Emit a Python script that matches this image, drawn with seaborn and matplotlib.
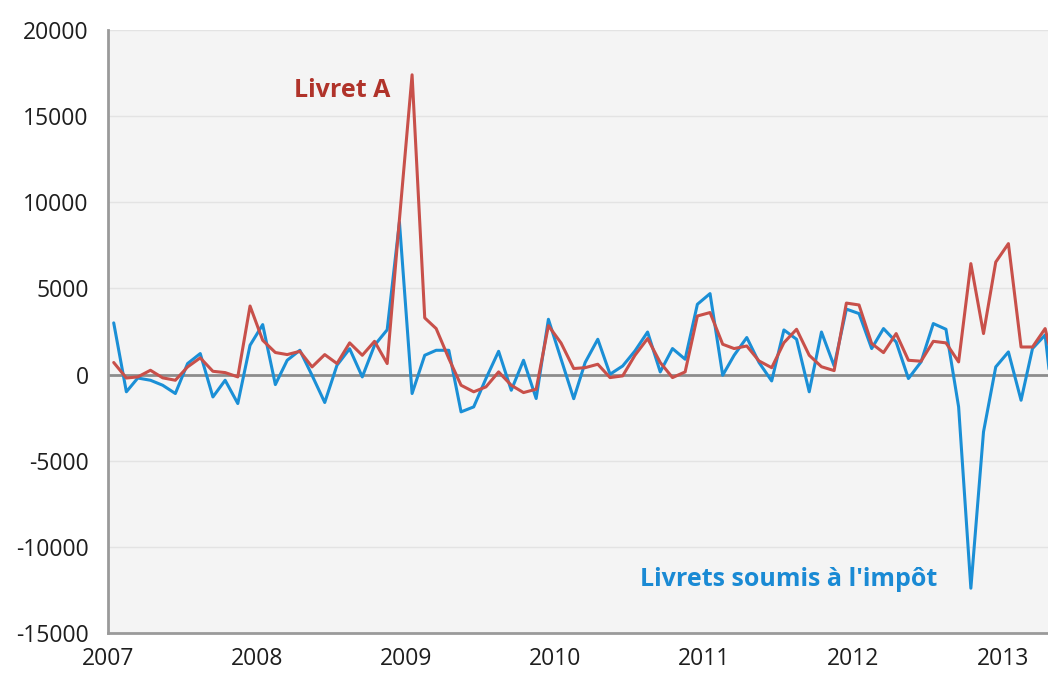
import pandas as pd
import seaborn as sns
import matplotlib.pyplot as plt
import matplotlib.dates as mdates

# monthly flows, Jan 2007 -> May 2013 (millions of euros)
livret_a = [700, -200, -135, 250, -190, -330, 445, 970, 190, 115, -135, 3980,
            1990, 1280, 1160, 1350, 445, 1160, 640, 1840, 1120, 1930, 640, 9000,
            17400, 3290, 2670, 930, -620, -1000, -715, 155, -620, -1045, -850, 2840,
            1830, 350, 400, 600, -175, -75, 1120, 2090, 700, -175, 155, 3400,
            3600, 1760, 1510, 1660, 790, 400, 1850, 2630, 1120, 455, 230, 4150,
            4040, 1800, 1275, 2380, 830, 775, 1930, 1840, 735, 6440, 2380, 6530,
            7600, 1600, 1600, 2670, -300]
livrets_imposes = [3000, -1000, -200, -330, -620, -1100, 640, 1220, -1300, -330, -1680, 1700,
                   2900, -580, 830, 1410, -50, -1620, 540, 1500, -135, 1700, 2600, 8850,
                   -1100, 1120, 1410, 1410, -2165, -1875, -230, 1350, -910, 830, -1390, 3210,
                   900, -1400, 700, 2050, 20, 500, 1370, 2470, 155, 1510, 890, 4080,
                   4700, -40, 1120, 2150, 700, -370, 2590, 2050, -1000, 2470, 500, 3800,
                   3540, 1510, 2670, 1890, -230, 735, 2960, 2630, -1875, -12400, -3325, 445,
                   1315, -1490, 1510, 2300, -4000]
series_names = ["Livret A", "Livrets soumis à l'impôt"]
colors = ["#c8504a", "#1a8fd6"]
years = list(range(2007, 2014))

dates = pd.date_range("2007-01-01", periods=len(livret_a), freq="MS") + pd.Timedelta(days=14)
df = pd.concat([
    pd.DataFrame({"date": dates, "value": livret_a, "serie": series_names[0]}),
    pd.DataFrame({"date": dates, "value": livrets_imposes, "serie": series_names[1]}),
])

sns.set_style("white")
plt.rcParams["font.family"] = ["Open Sans", "DejaVu Sans"]
plt.rcParams["axes.unicode_minus"] = False

fig = plt.figure(figsize=(10.48, 6.73), dpi=100)
ax = fig.add_axes([108 / 1048, 40 / 673, 940 / 1048, 603 / 673])
ax.set_facecolor("#f4f4f4")

for v in range(-15000, 20001, 5000):
    if v != 0:
        ax.axhline(v, color="#e3e3e3", lw=1, zorder=0)
ax.axhline(0, color="#8c8c8c", lw=2, zorder=1)

sns.lineplot(data=df, x="date", y="value", hue="serie", hue_order=series_names[::-1],
             palette=dict(zip(series_names, colors)), lw=2.2, legend=False, ax=ax, zorder=3)

ax.set_ylim(-15000, 20000)
ax.set_xlim(pd.Timestamp("2007-01-01"), pd.Timestamp("2013-04-22"))
ax.set_yticks(range(-15000, 20001, 5000))
ax.set_xticks([pd.Timestamp(f"{y}-01-01") for y in years])
ax.xaxis.set_major_formatter(mdates.DateFormatter("%Y"))
ax.set_xlabel("")
ax.set_ylabel("")

for s in ["top", "right"]:
    ax.spines[s].set_visible(False)
for s in ["left", "bottom"]:
    ax.spines[s].set_color("#9a9a9a")
    ax.spines[s].set_linewidth(2)

ax.tick_params(axis="y", length=0, pad=14, labelsize=16.5, labelcolor="#1e1e1e")
ax.tick_params(axis="x", length=3, color="#c0c0c0", pad=7, labelsize=16.5, labelcolor="#1e1e1e")

ax.text(pd.Timestamp("2008-04-01"), 16500, "Livret A", color="#b0332a",
        fontsize=18, fontweight="bold", va="center")
ax.text(pd.Timestamp("2010-07-27"), -11900, "Livrets soumis à l'impôt", color="#1a8ad4",
        fontsize=18, fontweight="bold", va="center")

fig.savefig("out.png", dpi=100)
